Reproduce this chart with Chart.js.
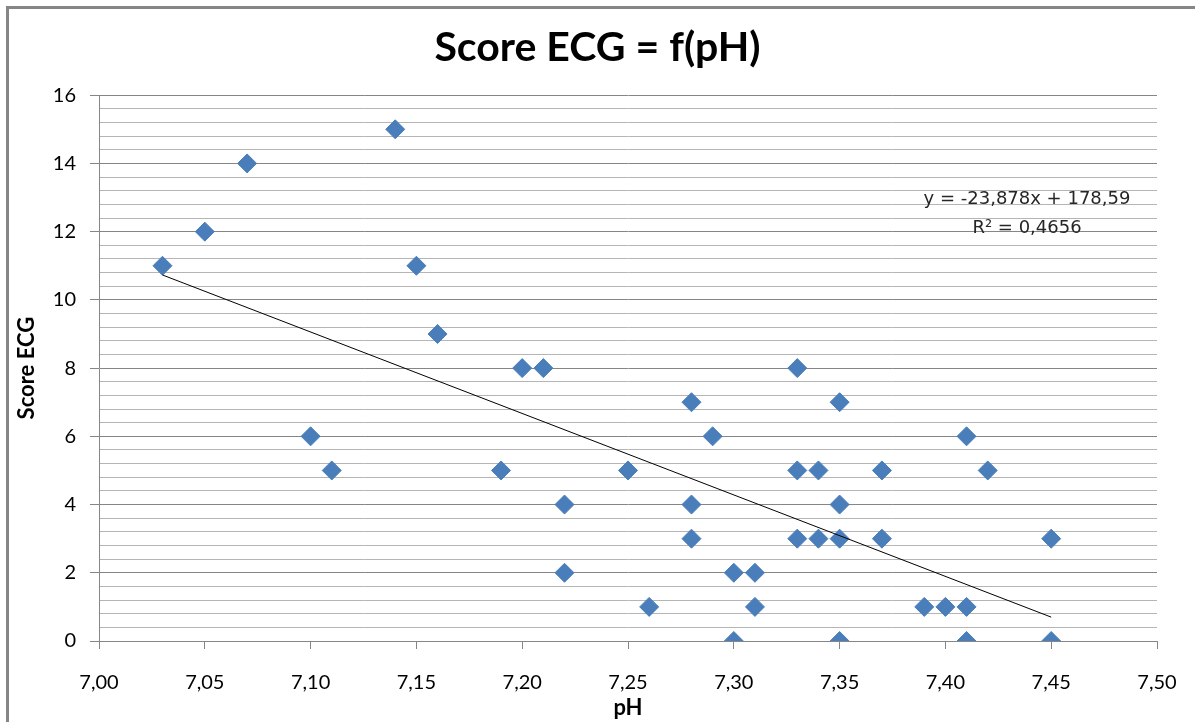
<!DOCTYPE html>
<html>
<head>
<meta charset="utf-8">
<title>Score ECG = f(pH)</title>
<script src="https://cdn.jsdelivr.net/npm/chart.js@4.4.1/dist/chart.umd.min.js"></script>
<style>
html, body { margin: 0; padding: 0; background: #fff; }
#wrap { position: relative; width: 1195px; height: 722px; }
</style>
</head>
<body>
<div id="wrap"><canvas id="chart"></canvas></div>
<script>
var ph = [7.03, 7.05, 7.07, 7.10, 7.11, 7.14, 7.15, 7.16, 7.19, 7.20, 7.21, 7.22, 7.22,
          7.25, 7.26, 7.28, 7.28, 7.28, 7.29, 7.30, 7.30, 7.31, 7.31, 7.33, 7.33, 7.33,
          7.34, 7.34, 7.35, 7.35, 7.35, 7.35, 7.37, 7.37, 7.39, 7.40, 7.41, 7.41, 7.41,
          7.42, 7.45, 7.45];
var score = [11, 12, 14, 6, 5, 15, 11, 9, 5, 8, 8, 4, 2,
             5, 1, 7, 4, 3, 6, 2, 0, 2, 1, 8, 5, 3,
             5, 3, 7, 4, 3, 0, 5, 3, 1, 1, 6, 1, 0,
             5, 3, 0];

// linear trend line ends (Excel trendline)
var trendX = [7.03, 7.45];
var trendY = [10.73, 0.70];
var eqLines = ['y = -23,878x + 178,59', 'R² = 0,4656'];

var xTicksMin = 7.00, xTicksMax = 7.50, xStep = 0.05;
var yTicksMin = 0, yTicksMax = 16, yMajor = 2, yMinor = 0.4;

function isMajor(v) {
  return Math.abs(v / yMajor - Math.round(v / yMajor)) < 1e-6;
}

var points = [];
for (var i = 0; i < ph.length; i++) points.push({x: ph[i], y: score[i]});
var trend = [];
for (var j = 0; j < trendX.length; j++) trend.push({x: trendX[j], y: trendY[j]});

// white page + grey frame like the Excel chart area
var framePlugin = {
  id: 'frame',
  beforeDraw: function(c) {
    var ctx = c.ctx;
    ctx.save();
    ctx.fillStyle = '#fff';
    ctx.fillRect(0, 0, c.width, c.height);
    ctx.strokeStyle = '#868686';
    ctx.lineWidth = 3;
    ctx.beginPath();
    ctx.moveTo(7.5, 760);
    ctx.lineTo(7.5, 7.5);
    ctx.lineTo(1200, 7.5);
    ctx.stroke();
    ctx.restore();
  }
};

// equation label of the trend line
var eqPlugin = {
  id: 'equation',
  afterDraw: function(c) {
    var ctx = c.ctx;
    ctx.save();
    ctx.fillStyle = '#262626';
    ctx.font = '18px "DejaVu Sans"';
    ctx.textAlign = 'center';
    ctx.textBaseline = 'middle';
    ctx.fillText(eqLines[0], 1027, 199);
    ctx.fillText(eqLines[1], 1027, 228);
    ctx.restore();
  }
};

var chart = new Chart(document.getElementById('chart'), {
  type: 'scatter',
  data: {
    datasets: [
      {
        label: 'trend',
        type: 'line',
        data: trend,
        borderColor: '#000',
        borderWidth: 1,
        pointRadius: 0,
        fill: false,
        order: 0
      },
      {
        label: 'Score ECG',
        data: points,
        pointStyle: 'rectRot',
        pointRadius: 9.5,
        pointHoverRadius: 9.5,
        backgroundColor: '#4a7ebb',
        borderColor: '#4a7ebb',
        borderWidth: 1,
        order: 1
      }
    ]
  },
  options: {
    responsive: true,
    maintainAspectRatio: false,
    animation: false,
    devicePixelRatio: 1,
    layout: { padding: 0 },
    plugins: {
      legend: { display: false },
      tooltip: { enabled: false },
      title: {
        display: true,
        text: 'Score ECG = f(pH)',
        color: '#000',
        font: { family: 'Lato', size: 41, weight: 'bold' },
        padding: { top: 23, bottom: 23 }
      }
    },
    scales: {
      x: {
        type: 'linear',
        min: xTicksMin,
        max: xTicksMax,
        afterFit: function(s) {
          s.height = 81;
          // fixed plot edges: right margin like the original, labels may overhang
          s.paddingLeft = 0;
          s.paddingRight = 38;
        },
        ticks: {
          stepSize: xStep,
          autoSkip: false,
          maxRotation: 0,
          color: '#000',
          font: { family: 'Lato', size: 20 },
          padding: 22,
          callback: function(v) { return v.toFixed(2).replace('.', ','); }
        },
        grid: {
          drawOnChartArea: false,
          tickLength: 8,
          tickColor: '#868686'
        },
        border: { color: '#868686', width: 1 },
        title: {
          display: true,
          text: 'pH',
          color: '#000',
          font: { family: 'Lato', size: 22, weight: 'bold' },
          padding: { top: 0, bottom: 1 }
        }
      },
      y: {
        type: 'linear',
        min: yTicksMin,
        max: yTicksMax,
        afterFit: function(s) { s.width = 99; },
        ticks: {
          stepSize: yMinor,
          autoSkip: false,
          color: '#000',
          font: { family: 'Lato', size: 20 },
          padding: 14,
          callback: function(v) { return isMajor(v) ? String(Math.round(v)) : ''; }
        },
        grid: {
          color: function(ctx) { return isMajor(ctx.tick.value) ? '#868686' : '#b5b5b5'; },
          tickColor: function(ctx) { return isMajor(ctx.tick.value) ? '#868686' : 'rgba(0,0,0,0)'; },
          tickLength: 9,
          lineWidth: 1
        },
        border: { color: '#868686', width: 1 },
        title: {
          display: true,
          text: 'Score ECG',
          color: '#000',
          font: { family: 'Lato', size: 22, weight: 'bold' },
          padding: { top: 14, bottom: 0 }
        }
      }
    }
  },
  plugins: [framePlugin, eqPlugin]
});
</script>
</body>
</html>
